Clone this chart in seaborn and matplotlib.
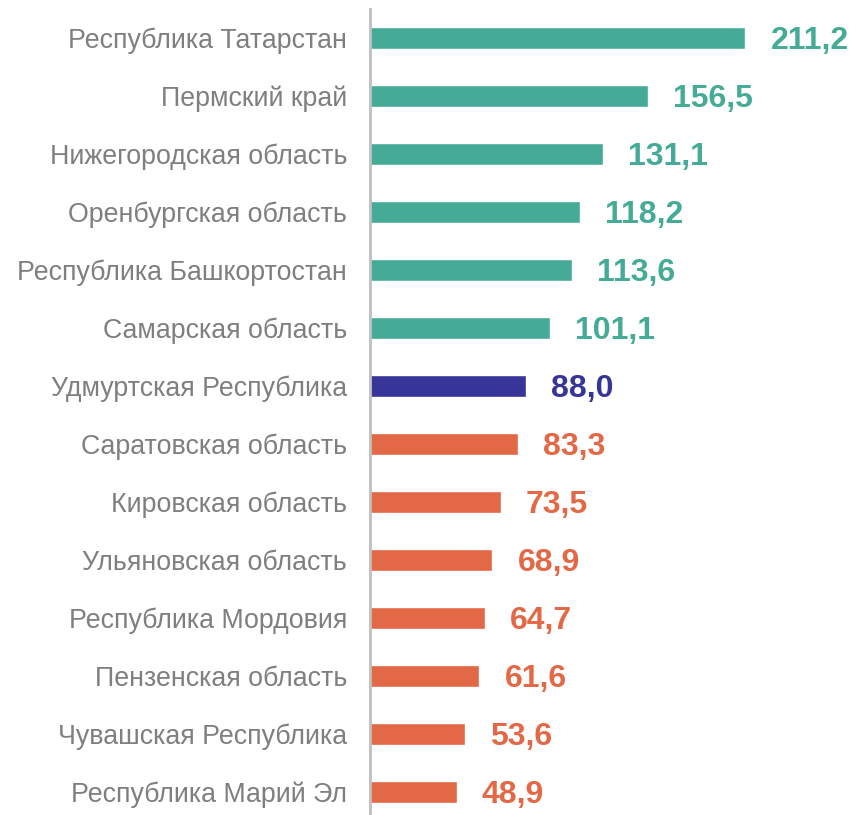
import matplotlib
matplotlib.use("Agg")
import matplotlib.pyplot as plt
import seaborn as sns
import pandas as pd

regions = [
    "Республика Татарстан", "Пермский край", "Нижегородская область",
    "Оренбургская область", "Республика Башкортостан", "Самарская область",
    "Удмуртская Республика", "Саратовская область", "Кировская область",
    "Ульяновская область", "Республика Мордовия", "Пензенская область",
    "Чувашская Республика", "Республика Марий Эл",
]
values = [211.2, 156.5, 131.1, 118.2, 113.6, 101.1, 88.0,
          83.3, 73.5, 68.9, 64.7, 61.6, 53.6, 48.9]
groups = ["above"] * 6 + ["udm"] + ["below"] * 7

palette = {"above": "#45AB97", "udm": "#373597", "below": "#E36845"}

df = pd.DataFrame({"region": regions, "value": values, "group": groups})

sns.set_style("white")
plt.rcParams["font.family"] = ["Liberation Sans", "DejaVu Sans"]

fig = plt.figure(figsize=(8.57, 8.15), dpi=100)
ax = fig.add_axes([370 / 857, -6 / 815, 1 - 370 / 857, 812 / 815])

sns.barplot(data=df, y="region", x="value", hue="group", palette=palette,
            dodge=False, width=0.37, legend=False, ax=ax, saturation=1)

ax.set_xlim(0, 274)
ax.set_ylim(13.5, -0.5)

# value labels next to bar ends
for i, (v, g) in enumerate(zip(values, groups)):
    ax.annotate(f"{v:.1f}".replace(".", ","), xy=(v, i), xytext=(18, -2.5),
                textcoords="offset points", va="center", ha="left",
                color=palette[g], fontsize=23, fontweight="bold")

ax.set_xlabel("")
ax.set_ylabel("")
ax.set_xticks([])
ax.tick_params(axis="y", length=0, pad=16.5, labelsize=19.3, labelcolor="#7F7F7F")
for side in ["top", "right", "bottom"]:
    ax.spines[side].set_visible(False)
ax.spines["left"].set_color("#BFBFBF")
ax.spines["left"].set_linewidth(2)

fig.savefig("out.png", dpi=100)
plt.close(fig)
